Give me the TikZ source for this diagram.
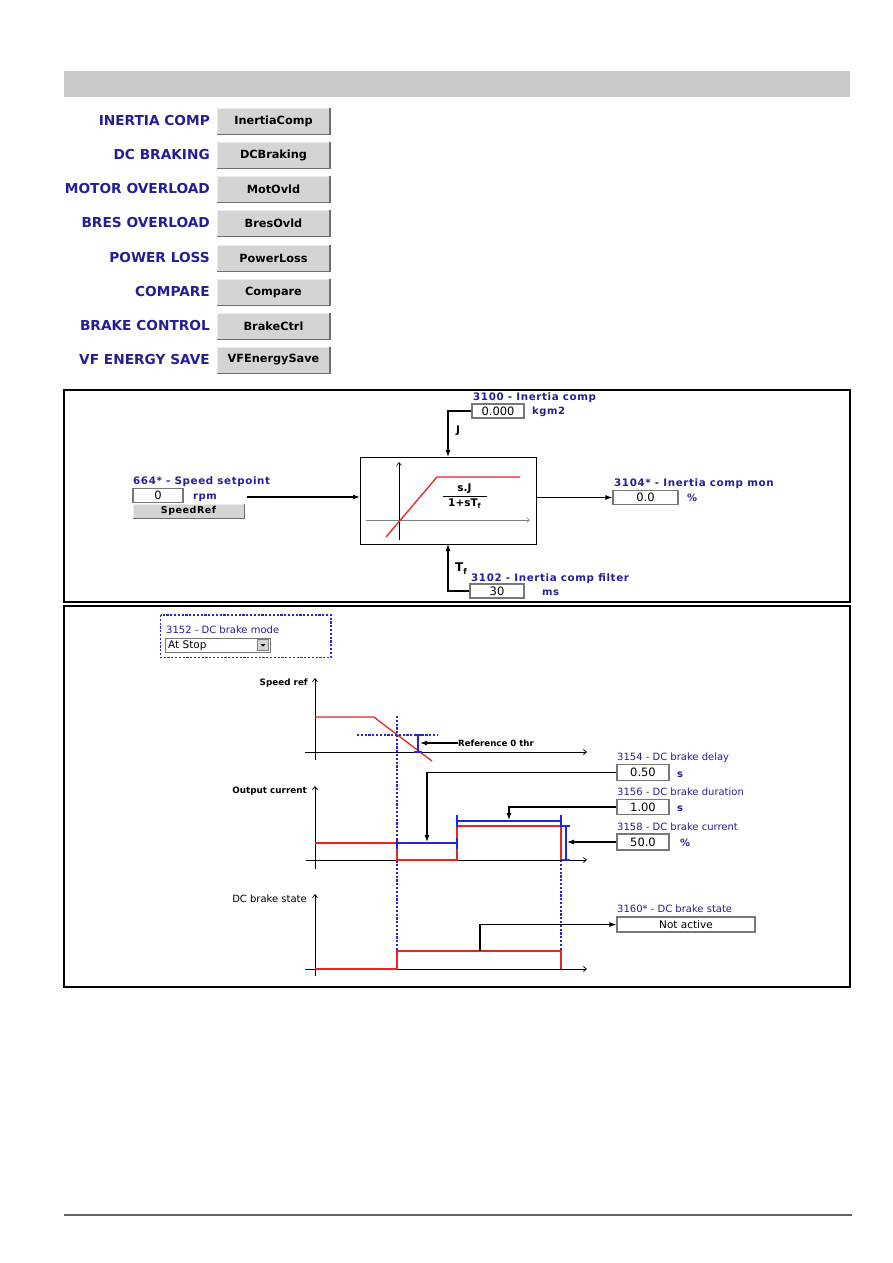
\documentclass[tikz,border=0pt]{standalone}
\usepackage{fontspec}
\setmainfont{DejaVu Sans}
\newfontfamily\lblfont[LetterSpace=6]{DejaVu Sans}
\usetikzlibrary{arrows.meta,calc}
\definecolor{navy}{RGB}{38,30,150}
\definecolor{hdr}{RGB}{200,200,200}
\definecolor{btnf}{RGB}{212,212,212}
\definecolor{btnhi}{RGB}{235,235,235}
\definecolor{btnlo}{RGB}{110,110,110}
\definecolor{boxedge}{RGB}{120,120,120}
\definecolor{bred}{RGB}{235,35,35}
\definecolor{bblue}{RGB}{35,35,225}
\definecolor{footg}{RGB}{102,102,102}
\begin{document}
\begin{tikzpicture}[x=1pt,y=-1pt,
  conn/.style={line width=1.1, -{Latex[length=7pt,width=5pt]}},
  ax/.style={line width=0.8, -{Straight Barb[length=3pt,width=5pt]}},
  menulbl/.style={anchor=east, inner sep=0, text=navy, font=\fontsize{13.7}{16}\selectfont\bfseries},
  btn/.style={fill=btnf, draw=btnhi, line width=1, minimum width=112, minimum height=26, inner sep=0, font=\fontsize{11.3}{13}\selectfont\bfseries},
  btnsh/.style={draw=btnlo, line width=1.6},
  plbl/.style={anchor=west, inner sep=0, text=navy, font=\lblfont\bfseries\fontsize{10.3}{12}\selectfont},
  dlbl/.style={anchor=west, inner sep=0, text=navy, font=\fontsize{10}{12}\selectfont},
  unit/.style={anchor=west, inner sep=0, text=navy, font=\lblfont\bfseries\fontsize{10}{12}\selectfont},
  chl/.style={anchor=east, inner sep=0, font=\bfseries\fontsize{8.8}{10}\selectfont},
  valbox/.style={draw=boxedge, fill=white, line width=1.2, inner sep=0, minimum height=14, font=\fontsize{11.5}{13}\selectfont},
  rl/.style={draw=bred, line width=1.3},
  bl/.style={draw=bblue, line width=1.3},
  bdash/.style={draw=bblue, line width=1.4, dash pattern=on 2.2pt off 1.6pt},
]
\useasboundingbox (0,0) rectangle (893,1263);
\fill[white] (0,0) rectangle (893,1263);

% ---------- header and menu ----------
\fill[hdr] (64,71) rectangle (850,97);
\foreach \n/\y/\l/\b in {1/121/INERTIA COMP/InertiaComp, 2/155/DC BRAKING/DCBraking,
  3/189/MOTOR OVERLOAD/MotOvld, 4/223/BRES OVERLOAD/BresOvld, 5/258/POWER LOSS/PowerLoss,
  6/292/COMPARE/Compare, 7/326/BRAKE CONTROL/BrakeCtrl, 8/360/VF ENERGY SAVE/VFEnergySave}{
  \node[menulbl] (l\n) at (210,\y) {\l};
  \node[btn] (b\n) at (273.5,\y) {\b};
  \draw[btnsh] (b\n.north east) -- (b\n.south east) -- (b\n.south west);
}

% ---------- inertia compensation panel ----------
\draw[line width=2] (64,390) rectangle (850,602);
\node[draw, line width=1, minimum width=176, minimum height=87, inner sep=0] (blk) at (448.5,500.5) {};
\draw[ax, line width=0.6] (399,540) -- (399,462);
\draw[ax, draw=gray, line width=0.6] (366,520) -- (530,520);
\draw[rl] (386,537) -- (437,477) -- (520,477);
\node[inner sep=0, font=\bfseries\fontsize{10.5}{12}\selectfont] (fnum) at (464.5,489) {s.J};
\node[inner sep=0, font=\bfseries\fontsize{10.5}{12}\selectfont] (fden) at (464.5,504) {1+sT\raisebox{-2pt}{\fontsize{7}{8}\selectfont f}};
\draw[line width=1] (443,496.5) -- (487,496.5);

\node[plbl] (spl) at (133,482) {664* - Speed setpoint};
\node[valbox, minimum width=50] (spv) at (158,495.5) {0};
\node[unit] (spu) at (193,498) {rpm};
\node[btn, minimum width=111, minimum height=14, font=\lblfont\bfseries\fontsize{9.5}{11}\selectfont] (spb) at (188.5,511) {SpeedRef};
\draw[btnsh, line width=1.2] (spb.north east) -- (spb.south east) -- (spb.south west);
\coordinate (spo) at (247,497);
\draw[conn] (spo) -- (spo -| blk.west);

\node[plbl] (jl) at (473,398) {3100 - Inertia comp};
\node[valbox, minimum width=52] (jv) at (498,411) {0.000};
\node[unit] (ju) at (532,412) {kgm2};
\coordinate (jin) at (448,457);
\draw[conn] (jv.west) -| (jin);
\node[inner sep=0, font=\bfseries\fontsize{10.5}{12}\selectfont] (jt) at (458,431) {J};

\node[plbl] (tfl) at (471,579) {3102 - Inertia comp filter};
\node[valbox, minimum width=54] (tfv) at (497,591) {30};
\node[unit] (tfu) at (542,593) {ms};
\coordinate (tfin) at (448,544);
\draw[conn] (tfv.west) -| (tfin);
\node[inner sep=0, font=\bfseries\fontsize{12}{14}\selectfont] (tft) at (461,569) {T\raisebox{-3pt}{\fontsize{8}{9}\selectfont f}};

\node[plbl] (oml) at (614,484) {3104* - Inertia comp mon};
\node[valbox, minimum width=65] (omv) at (645.5,497.5) {0.0};
\node[unit] (omu) at (687,498) {\%};
\draw[conn] (blk.east |- omv.west) -- (omv.west);

% ---------- DC braking panel ----------
\draw[line width=1.5] (64,606) rectangle (850,987);
\draw[bdash, line width=1.7] (160.5,615) rectangle (331,657.5);
\node[dlbl] (bml) at (166,630) {3152 - DC brake mode};
\node[draw=boxedge, line width=1, minimum width=105, minimum height=14, inner sep=0] (cmb) at (217.5,645) {};
\node[anchor=west, inner sep=0, font=\fontsize{10.5}{12}\selectfont] (cmbt) at (168,645.5) {At Stop};
\node[draw=gray, fill=btnf, minimum width=11, minimum height=11, inner sep=0] (cmbb) at (263,645) {};
\fill (260.5,644) -- (265.5,644) -- (263,646.5) -- cycle;

% blue dashed time markers
\draw[bdash] (397,716) -- (397,951);
\draw[bdash] (561,826) -- (561,951);

% speed ref chart
\node[chl] (srl) at (308,683) {Speed ref};
\draw[ax] (315,760) -- (315,678);
\draw[ax] (305,752) -- (587,752);
\draw[rl] (315,717) -- (374,717) -- (379,721) -- (432,761);
\draw[bdash] (357,735) -- (438,735);
\draw[bl] (418,735) -- (418,752);
\draw[bl] (414,735) -- (422,735);
\draw[bl] (414,752) -- (422,752);
\node[anchor=west, inner sep=0, font=\bfseries\fontsize{8.6}{10}\selectfont] (r0) at (458,743) {Reference 0 thr};
\coordinate (r0t) at (420,743);
\draw[conn] (r0.west) -- (r0t);

% output current chart
\node[chl] (ocl) at (307,791) {Output current};
\draw[ax] (315,869) -- (315,786);
\draw[ax] (306,860) -- (587,860);
\draw[rl] (315,843) -- (397,843) -- (397,860) -- (457,860) -- (457,826) -- (561,826) -- (561,860);
\draw[bl] (397,843) -- (457,843);
\draw[bl] (397,838) -- (397,849);
\draw[bl] (457,838) -- (457,849);
\draw[bl] (457,821) -- (561,821);
\draw[bl] (457,815) -- (457,827);
\draw[bl] (561,815) -- (561,827);
\draw[bl] (566,826) -- (566,860);
\draw[bl] (562,826) -- (570,826);
\draw[bl] (562,860) -- (570,860);

\node[dlbl] (dll) at (617,758) {3154 - DC brake delay};
\node[valbox, minimum width=52, minimum height=16] (dlv) at (643,772.5) {0.50};
\node[unit] (dlu) at (677,775) {s};
\coordinate (dlt) at (427,842);
\draw[conn] (dlv.west) -| (dlt);

\node[dlbl] (dul) at (617,792) {3156 - DC brake duration};
\node[valbox, minimum width=52, minimum height=15] (duv) at (643,807) {1.00};
\node[unit] (duu) at (677,809) {s};
\coordinate (dut) at (509,820);
\draw[conn] (duv.west) -| (dut);

\node[dlbl] (cul) at (617,827) {3158 - DC brake current};
\node[valbox, minimum width=52, minimum height=16] (cuv) at (643,842) {50.0};
\node[unit] (cuu) at (680,843) {\%};
\coordinate (cut) at (567,842);
\draw[conn] (cuv.west) -- (cut);

% DC brake state chart
\node[anchor=east, inner sep=0, font=\fontsize{10}{12}\selectfont] (dsl) at (307,899) {DC brake state};
\draw[ax] (315,976) -- (315,894);
\draw[ax] (305,969) -- (587,969);
\draw[rl] (315,969) -- (397,969) -- (397,951) -- (561,951) -- (561,969);
\node[dlbl] (dstl) at (617,909) {3160* - DC brake state};
\node[valbox, minimum width=138, minimum height=15, font=\fontsize{10.5}{12}\selectfont] (dsv) at (686,924.5) {Not active};
\coordinate (dss) at (480,951);
\draw[conn] (dss) |- (dsv.west);

% footer
\draw[line width=2.5, draw=footg] (64,1215) -- (852,1215);
\end{tikzpicture}
\end{document}
